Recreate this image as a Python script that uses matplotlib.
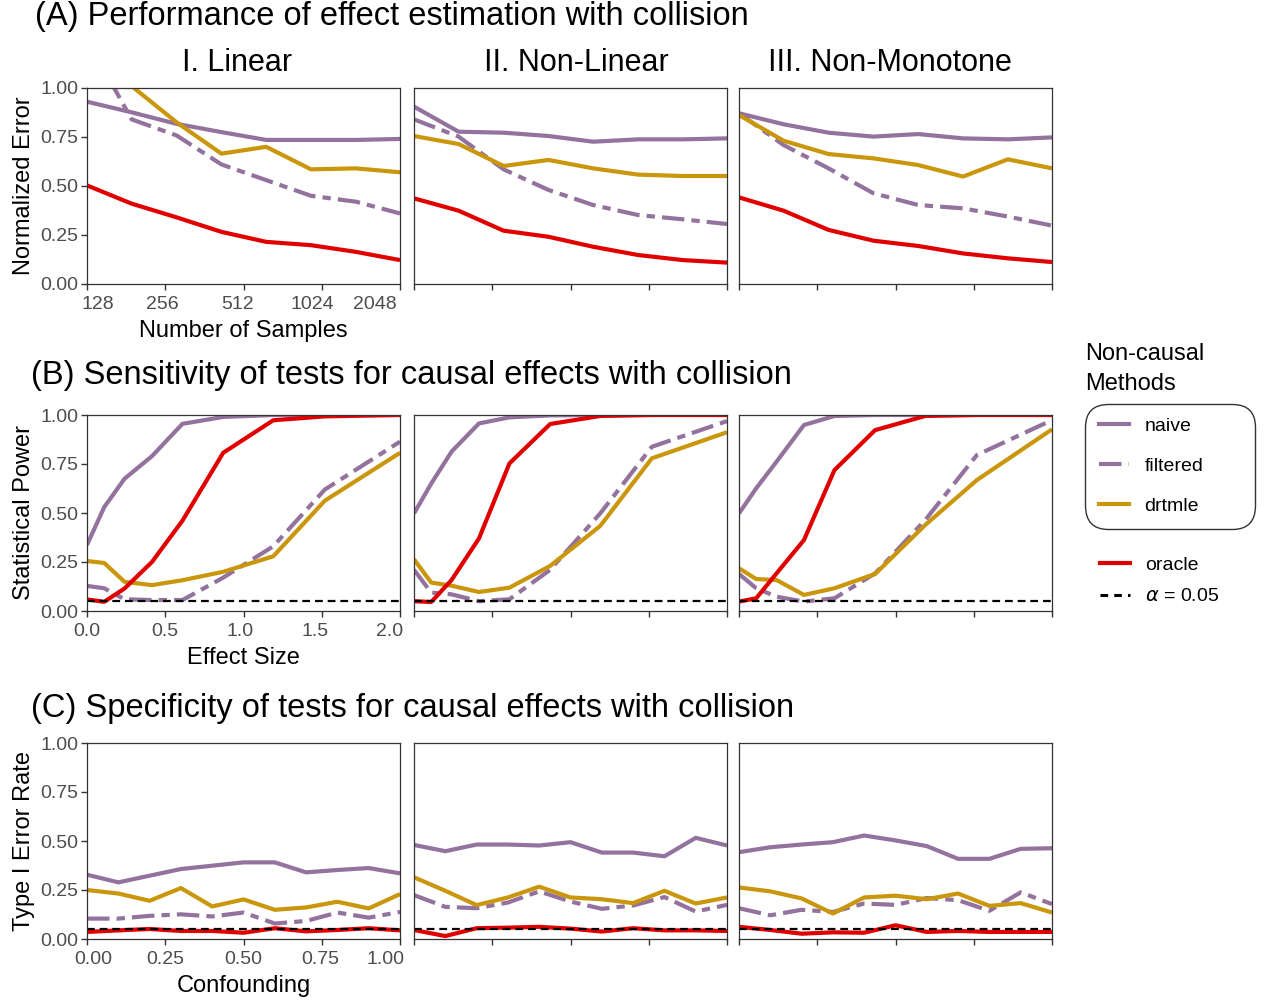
import matplotlib
matplotlib.use("Agg")
import matplotlib.pyplot as plt
import matplotlib.transforms as mtransforms
from matplotlib.lines import Line2D

plt.rcParams["font.family"] = ["Liberation Sans", "DejaVu Sans"]

# x values for each row:
samples = [128, 190, 283, 421, 626, 931, 1385, 2048]
effect_size = [0.0, 0.11, 0.24, 0.415, 0.61, 0.87, 1.19, 1.52, 2.0]
confounding = [0.0, 0.1, 0.2, 0.3, 0.4, 0.5, 0.6, 0.7, 0.8, 0.9, 1.0]

col_titles = ["I. Linear", "II. Non-Linear", "III. Non-Monotone"]

# (A) normalized error, one list per column (linear, non-linear, non-monotone):
err_naive = [[0.93, 0.876, 0.817, 0.775, 0.735, 0.735, 0.735, 0.74],
             [0.905, 0.777, 0.772, 0.755, 0.726, 0.738, 0.738, 0.743],
             [0.871, 0.815, 0.772, 0.752, 0.765, 0.743, 0.738, 0.748]]
err_filtered = [[1.25, 0.84, 0.758, 0.61, 0.53, 0.45, 0.42, 0.36],
                [0.84, 0.752, 0.585, 0.48, 0.403, 0.352, 0.33, 0.306],
                [0.871, 0.709, 0.59, 0.463, 0.403, 0.386, 0.344, 0.298]]
err_drtmle = [[1.3, 1.01, 0.825, 0.665, 0.70, 0.585, 0.59, 0.57],
              [0.755, 0.714, 0.602, 0.633, 0.59, 0.558, 0.551, 0.551],
              [0.862, 0.731, 0.663, 0.641, 0.607, 0.548, 0.636, 0.59]]
err_oracle = [[0.503, 0.41, 0.34, 0.266, 0.215, 0.198, 0.164, 0.122],
              [0.437, 0.374, 0.272, 0.241, 0.19, 0.148, 0.122, 0.109],
              [0.442, 0.374, 0.276, 0.221, 0.194, 0.156, 0.131, 0.112]]

# (B) statistical power:
pow_naive = [[0.337, 0.53, 0.675, 0.79, 0.955, 0.99, 1.0, 1.0, 1.0],
             [0.498, 0.65, 0.813, 0.957, 0.988, 0.998, 1.0, 1.0, 1.0],
             [0.498, 0.626, 0.762, 0.949, 0.995, 1.0, 1.0, 1.0, 1.0]]
pow_filtered = [[0.128, 0.116, 0.06, 0.056, 0.056, 0.17, 0.33, 0.62, 0.864],
                [0.21, 0.094, 0.085, 0.05, 0.06, 0.21, 0.498, 0.838, 0.969],
                [0.189, 0.116, 0.073, 0.048, 0.065, 0.192, 0.464, 0.796, 0.974]]
pow_drtmle = [[0.255, 0.245, 0.149, 0.132, 0.157, 0.2, 0.279, 0.563, 0.807],
              [0.264, 0.145, 0.129, 0.097, 0.119, 0.23, 0.434, 0.779, 0.912],
              [0.218, 0.163, 0.158, 0.082, 0.116, 0.189, 0.439, 0.668, 0.927]]
pow_oracle = [[0.059, 0.047, 0.115, 0.25, 0.461, 0.807, 0.973, 0.993, 1.0],
              [0.05, 0.046, 0.158, 0.37, 0.753, 0.954, 0.995, 1.0, 1.0],
              [0.048, 0.065, 0.192, 0.362, 0.719, 0.923, 0.995, 1.0, 1.0]]

# (C) type I error rate:
t1_naive = [[0.328, 0.289, 0.323, 0.357, 0.374, 0.391, 0.391, 0.34, 0.352, 0.362, 0.335],
            [0.48, 0.448, 0.482, 0.482, 0.477, 0.494, 0.441, 0.441, 0.422, 0.516, 0.477],
            [0.443, 0.468, 0.482, 0.494, 0.528, 0.503, 0.474, 0.409, 0.409, 0.46, 0.463]]
t1_filtered = [[0.104, 0.104, 0.118, 0.126, 0.115, 0.135, 0.079, 0.092, 0.135, 0.109, 0.138],
               [0.224, 0.164, 0.157, 0.186, 0.243, 0.191, 0.154, 0.171, 0.214, 0.14, 0.174],
               [0.157, 0.121, 0.149, 0.138, 0.181, 0.174, 0.209, 0.198, 0.144, 0.238, 0.178]]
t1_drtmle = [[0.25, 0.232, 0.195, 0.26, 0.166, 0.202, 0.149, 0.161, 0.19, 0.156, 0.229],
             [0.315, 0.246, 0.173, 0.212, 0.267, 0.212, 0.203, 0.183, 0.246, 0.181, 0.212],
             [0.263, 0.243, 0.207, 0.13, 0.212, 0.221, 0.203, 0.232, 0.169, 0.183, 0.135]]
t1_oracle = [[0.036, 0.044, 0.051, 0.041, 0.041, 0.032, 0.055, 0.039, 0.046, 0.055, 0.044],
             [0.046, 0.015, 0.055, 0.058, 0.062, 0.053, 0.038, 0.055, 0.044, 0.044, 0.041],
             [0.062, 0.046, 0.027, 0.034, 0.032, 0.07, 0.036, 0.041, 0.036, 0.036, 0.036]]

alpha_level = 0.05

# tick labels per row:
ticks_A = [128, 256, 512, 1024, 2048]
ticks_B = [0.0, 0.5, 1.0, 1.5, 2.0]
ticks_C = [0.0, 0.25, 0.5, 0.75, 1.0]

# styles:
PURPLE = "#93729e"
GOLD = "#c9960c"
RED = "#e00000"
LW = 3.0
FILT_DASH = (5.4, 1.7, 2.0, 1.7)
ALPHA_DASH = (3.5, 2.2)
GREY = "#4d4d4d"

W, H = 1266, 1001
col_left = [87, 414, 739]
col_width = 313
row_top = [88, 415, 743]
row_height = 196
col_title_x = [237, 576, 890]

# horizontal nudges (px) of the x tick labels, as in the reference:
label_shift = [[11, -3, -6, -9, -25],
               [0, 0, -3, -7, -10],
               [6, 0, 0, -1, -14]]

fig = plt.figure(figsize=(W / 100, H / 100), dpi=100)


def px_text(x, y, s, **kw):
    fig.text(x / W, 1 - y / H, s, **kw)


# Function to draw one panel:
def draw_panel(ax, x, naive, filtered, drtmle, oracle, show_alpha):
    ax.plot(x, naive, color=PURPLE, lw=LW, solid_capstyle="butt")
    ax.plot(x, filtered, color=PURPLE, lw=LW, dashes=FILT_DASH)
    ax.plot(x, drtmle, color=GOLD, lw=LW, solid_capstyle="butt")
    ax.plot(x, oracle, color=RED, lw=LW, solid_capstyle="butt")
    if show_alpha:
        ax.plot([x[0], x[-1]], [alpha_level, alpha_level], color="black", lw=1.6, dashes=ALPHA_DASH)
    ax.set_ylim(0, 1)
    ax.set_xlim(x[0], x[-1])
    ax.set_yticks([0, 0.25, 0.5, 0.75, 1.0])
    ax.set_yticklabels(["0.00", "0.25", "0.50", "0.75", "1.00"])
    for sp in ax.spines.values():
        sp.set_color("#333333")
        sp.set_linewidth(0.9)
    ax.tick_params(length=4, width=1.0, color="#333333", labelcolor=GREY, labelsize=14, pad=2)
    ax.tick_params(axis="x", pad=4.5)


rows = [
    (samples, err_naive, err_filtered, err_drtmle, err_oracle, False,
     "Normalized Error", "Number of Samples", ticks_A, [str(t) for t in ticks_A]),
    (effect_size, pow_naive, pow_filtered, pow_drtmle, pow_oracle, True,
     "Statistical Power", "Effect Size", ticks_B, [f"{t:.1f}" for t in ticks_B]),
    (confounding, t1_naive, t1_filtered, t1_drtmle, t1_oracle, True,
     "Type I Error Rate", "Confounding", ticks_C, [f"{t:.2f}" for t in ticks_C]),
]

for r, (x, nv, fl, dr, orc, show_alpha, ylab, xlab, ticks, tick_labels) in enumerate(rows):
    for c in range(3):
        ax = fig.add_axes([col_left[c] / W, 1 - (row_top[r] + row_height) / H,
                           col_width / W, row_height / H])
        if r == 0:
            ax.set_xscale("log", base=2)
        draw_panel(ax, x, nv[c], fl[c], dr[c], orc[c], show_alpha)
        ax.set_xticks(ticks)
        ax.set_xticklabels(tick_labels)
        ax.xaxis.set_minor_locator(plt.NullLocator())
        if c == 0:
            ax.set_ylabel(ylab, fontsize=17, labelpad=4)
            ax.set_xlabel(xlab, fontsize=17, labelpad=5)
            for lab, dx in zip(ax.get_xticklabels(), label_shift[r]):
                lab.set_transform(lab.get_transform()
                                  + mtransforms.ScaledTranslation(dx / 100, 0, fig.dpi_scale_trans))
        else:
            ax.tick_params(axis="x", labelbottom=False)
            ax.tick_params(axis="y", left=False, labelleft=False)

# titles:
px_text(35, 17, "(A) Performance of effect estimation with collision", fontsize=23.5, va="center")
px_text(31, 375, "(B) Sensitivity of tests for causal effects with collision", fontsize=23.5, va="center")
px_text(31, 709, "(C) Specificity of tests for causal effects with collision", fontsize=23.5, va="center")
for c in range(3):
    px_text(col_title_x[c], 63, col_titles[c], fontsize=22, ha="center", va="center")

# legends:
px_text(1085, 369, "Non-causal\nMethods", fontsize=17, va="center", linespacing=1.45)
h_methods = [
    Line2D([], [], color=PURPLE, lw=LW),
    Line2D([], [], color=PURPLE, lw=LW, dashes=FILT_DASH),
    Line2D([], [], color=GOLD, lw=LW),
]
leg1 = fig.legend(h_methods, ["naive", "filtered", "drtmle"], loc="upper left",
                  bbox_to_anchor=(1085 / W, 0, 170 / W, 1 - 404 / H), mode="expand",
                  borderaxespad=0, fontsize=14,
                  handlelength=1.55, handletextpad=0.8, labelspacing=1.15, borderpad=0.7,
                  frameon=True, fancybox=True, edgecolor="#333333", framealpha=1)
leg1.get_frame().set_boxstyle("round", pad=0, rounding_size=1.2)
leg1.get_frame().set_linewidth(1.0)

h_other = [
    Line2D([], [], color=RED, lw=LW),
    Line2D([], [], color="black", lw=2.2, dashes=(2.5, 2.0)),
]
fig.legend(h_other, ["oracle", r"$\alpha$ = 0.05"], loc="upper left",
           bbox_to_anchor=(1085 / W, 1 - 542 / H), borderaxespad=0, fontsize=14,
           handlelength=1.55, handletextpad=0.8, labelspacing=0.7, borderpad=0.75,
           frameon=False)

fig.savefig("out.png", dpi=100)
